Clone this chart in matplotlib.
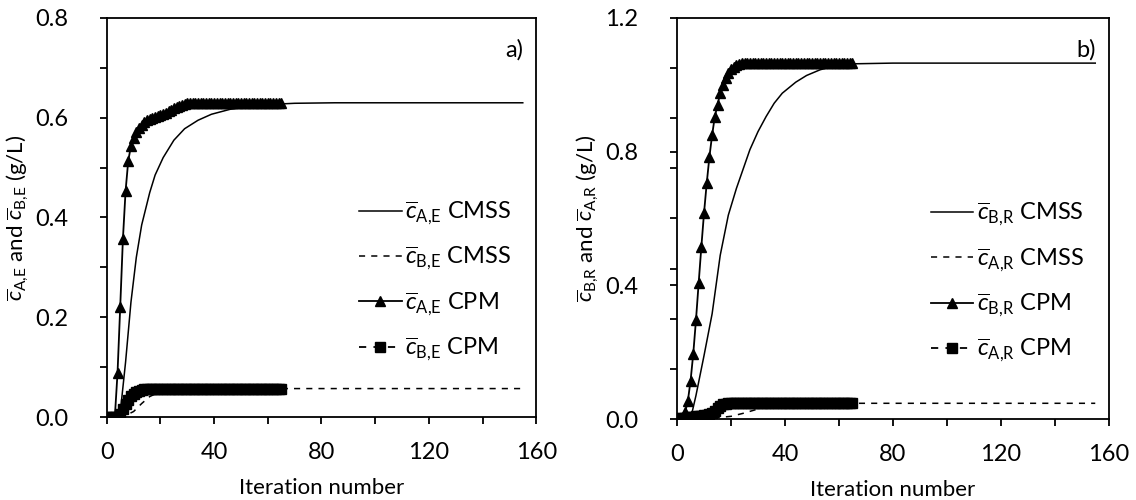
import matplotlib
matplotlib.use('Agg')
import matplotlib.pyplot as plt

plt.rcParams['font.family'] = ['Lato', 'DejaVu Sans']
plt.rcParams['mathtext.fontset'] = 'custom'
plt.rcParams['mathtext.rm'] = 'Lato'
plt.rcParams['mathtext.it'] = 'Lato:italic'
plt.rcParams['mathtext.sf'] = 'Lato'

# ---- data ----
# CPM runs: one point per iteration, 0..65
cpm_iter = list(range(66))

# panel a) extract concentrations
a_cpm_A = [0, 0, 0, 0, 0.088, 0.22, 0.356, 0.453, 0.514, 0.543,
           0.56, 0.572, 0.58, 0.586, 0.591, 0.595, 0.598, 0.6, 0.602, 0.604,
           0.606, 0.608, 0.61, 0.613, 0.616, 0.619, 0.622, 0.624, 0.626, 0.628,
           0.629, 0.63, 0.63, 0.63, 0.63, 0.63, 0.63, 0.63, 0.63, 0.63,
           0.63, 0.63, 0.63, 0.63, 0.63, 0.63, 0.63, 0.63, 0.63, 0.63,
           0.63, 0.63, 0.63, 0.63, 0.63, 0.63, 0.63, 0.63, 0.63, 0.63,
           0.63, 0.63, 0.63, 0.63, 0.63, 0.63]
a_cpm_B = [0, 0, 0, 0, 0, 0.006, 0.016, 0.026, 0.035, 0.042,
           0.047, 0.051, 0.053, 0.055, 0.056, 0.057, 0.057, 0.057, 0.057, 0.057,
           0.057, 0.057, 0.057, 0.057, 0.057, 0.057, 0.057, 0.057, 0.057, 0.057,
           0.057, 0.057, 0.057, 0.057, 0.057, 0.057, 0.057, 0.057, 0.057, 0.057,
           0.057, 0.057, 0.057, 0.057, 0.057, 0.057, 0.057, 0.057, 0.057, 0.057,
           0.057, 0.057, 0.057, 0.057, 0.057, 0.057, 0.057, 0.057, 0.057, 0.057,
           0.057, 0.057, 0.057, 0.057, 0.057, 0.057]
a_cmss_A_x = [0, 3, 5, 7, 9, 11, 13, 16, 18, 21, 25, 29, 34, 39, 46, 54, 62, 70, 85, 100, 120, 140, 155]
a_cmss_A = [0, 0, 0.008, 0.11, 0.23, 0.32, 0.385, 0.45, 0.485, 0.52, 0.555, 0.578, 0.595, 0.607,
            0.617, 0.623, 0.627, 0.629, 0.63, 0.63, 0.63, 0.63, 0.63]
a_cmss_B_x = [0, 5, 7, 10, 13, 16, 20, 25, 30, 40, 60, 100, 155]
a_cmss_B = [0, 0, 0.003, 0.011, 0.027, 0.041, 0.051, 0.055, 0.057, 0.057, 0.057, 0.057, 0.057]

# panel b) raffinate concentrations
b_cpm_B = [0, 0, 0, 0.02, 0.054, 0.114, 0.195, 0.295, 0.406, 0.515,
           0.617, 0.706, 0.785, 0.85, 0.905, 0.94, 0.975, 1.0, 1.02, 1.035,
           1.046, 1.054, 1.06, 1.063, 1.065, 1.065, 1.065, 1.065, 1.065, 1.065,
           1.065, 1.065, 1.065, 1.065, 1.065, 1.065, 1.065, 1.065, 1.065, 1.065,
           1.065, 1.065, 1.065, 1.065, 1.065, 1.065, 1.065, 1.065, 1.065, 1.065,
           1.065, 1.065, 1.065, 1.065, 1.065, 1.065, 1.065, 1.065, 1.065, 1.065,
           1.065, 1.065, 1.065, 1.065, 1.065, 1.065]
b_cpm_A = [0, 0.002, 0.003, 0.004, 0.005, 0.006, 0.007, 0.008, 0.009, 0.01,
           0.011, 0.012, 0.014, 0.017, 0.024, 0.032, 0.039, 0.044, 0.046, 0.047,
           0.047, 0.047, 0.047, 0.047, 0.047, 0.047, 0.047, 0.047, 0.047, 0.047,
           0.047, 0.047, 0.047, 0.047, 0.047, 0.047, 0.047, 0.047, 0.047, 0.047,
           0.047, 0.047, 0.047, 0.047, 0.047, 0.047, 0.047, 0.047, 0.047, 0.047,
           0.047, 0.047, 0.047, 0.047, 0.047, 0.047, 0.047, 0.047, 0.047, 0.047,
           0.047, 0.047, 0.047, 0.047, 0.047, 0.047]
b_cmss_B_x = [0, 5, 7, 10, 13, 16, 19, 22, 27, 30, 33, 36, 39, 44, 48, 53, 58, 66, 80, 100, 130, 155]
b_cmss_B = [0, 0, 0.07, 0.19, 0.315, 0.49, 0.61, 0.69, 0.806, 0.86, 0.905, 0.945, 0.975, 1.008, 1.028,
            1.045, 1.056, 1.063, 1.065, 1.065, 1.065, 1.065]
b_cmss_A_x = [0, 10, 15, 20, 25, 30, 35, 40, 50, 60, 80, 120, 155]
b_cmss_A = [0, 0.002, 0.004, 0.008, 0.018, 0.03, 0.038, 0.043, 0.046, 0.047, 0.047, 0.047, 0.047]

fs = 16
tfs = 17

fig = plt.figure(figsize=(11.36, 5), dpi=100)
ax1 = fig.add_axes([0.094, 0.166, 0.378, 0.798])
ax2 = fig.add_axes([0.596, 0.162, 0.380, 0.802])


def cbar(n):
    a, b = n.split(',')
    return r'$\overline{c}_{\mathrm{%s{,}%s}}$' % (a, b)


def draw(ax, cmss1_x, cmss1, cmss2_x, cmss2, cpm1, cpm2, n1, n2, ymax, yticks, tag):
    ax.plot(cmss1_x, cmss1, color='black', lw=1.1, label=cbar(n1) + ' CMSS')
    ax.plot(cmss2_x, cmss2, color='black', lw=1.1, dashes=(4, 4), label=cbar(n2) + ' CMSS')
    ax.plot(cpm_iter, cpm1, color='black', lw=1.3, marker='^', ms=7,
            label=cbar(n1) + ' CPM')
    ax.plot(cpm_iter, cpm2, color='black', lw=1.3, dashes=(4, 4), marker='s', ms=7,
            label=cbar(n2) + ' CPM')
    ax.set_xlim(0, 160)
    ax.set_ylim(0, ymax)
    ax.set_xticks(range(0, 161, 40))
    ax.set_xticks(range(0, 161, 20), minor=True)
    ax.set_yticks(yticks)
    ax.set_yticks([i * ymax / 8 for i in range(9)], minor=True)
    ax.set_yticklabels(['%.1f' % v for v in yticks])
    ax.tick_params(which='both', direction='out', length=5, width=1.3, labelsize=tfs)
    ax.tick_params(axis='y', which='major', pad=23)
    ax.tick_params(axis='x', which='major', pad=13)
    for s in ax.spines.values():
        s.set_linewidth(1.3)
    ax.set_xlabel('Iteration number', fontsize=fs, labelpad=11)
    ax.set_ylabel(cbar(n1) + ' and ' + cbar(n2) + ' (g/L)', fontsize=fs)
    ax.yaxis.set_label_coords(-0.177, 0.5)
    ax.text(0.97, 0.92, tag, transform=ax.transAxes, ha='right', va='center', fontsize=tfs)
    ax.legend(loc='center left', bbox_to_anchor=(0.56, 0.34), frameon=False, fontsize=tfs,
              handlelength=1.8, handletextpad=0.15, labelspacing=0.76, borderpad=0)


draw(ax1, a_cmss_A_x, a_cmss_A, a_cmss_B_x, a_cmss_B, a_cpm_A, a_cpm_B, 'A,E', 'B,E', 0.8,
     [0, 0.2, 0.4, 0.6, 0.8], 'a)')
draw(ax2, b_cmss_B_x, b_cmss_B, b_cmss_A_x, b_cmss_A, b_cpm_B, b_cpm_A, 'B,R', 'A,R', 1.2,
     [0, 0.4, 0.8, 1.2], 'b)')

fig.savefig('out.png', dpi=100)
